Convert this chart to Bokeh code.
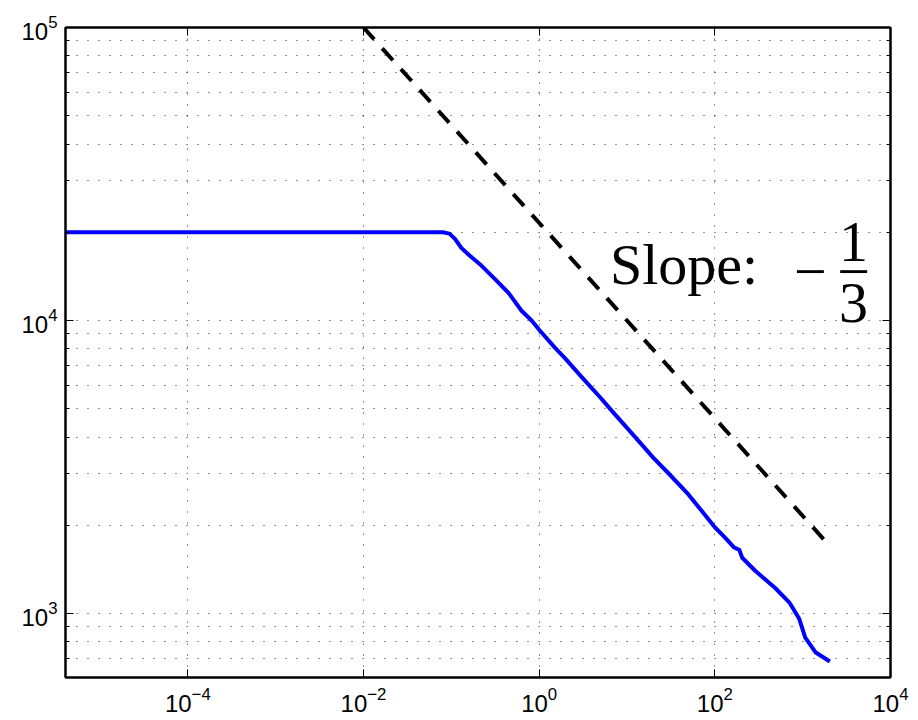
from bokeh.plotting import figure
from bokeh.models import FixedTicker, LogAxis, Label, CustomJSTickFormatter, LogTickFormatter
from bokeh.embed import file_html
from bokeh.resources import INLINE

# ---- data ----
curve_x = [4.05e-6, 1e-4, 1e-2, 0.06, 0.08, 0.095, 0.11, 0.13, 0.16, 0.22, 0.31,
           0.45, 0.63, 0.82, 1.0, 1.5, 2, 3, 5, 7, 10, 15, 20, 30, 50, 70, 100,
           130, 166, 190, 205, 288, 490, 707, 910, 1070, 1410, 2040]
curve_y = [2.0e4, 2.0e4, 2.0e4, 2.0e4, 2.0e4, 1.98e4, 1.9e4, 1.77e4, 1.67e4, 1.54e4, 1.39e4,
           1.24e4, 1.08e4, 1.0e4, 9.3e3, 8.1e3, 7.4e3, 6.45e3, 5.45e3, 4.85e3, 4.3e3, 3.75e3, 3.4e3, 3.0e3, 2.55e3, 2.25e3, 1.97e3,
           1.82e3, 1.68e3, 1.65e3, 1.55e3, 1.40e3, 1.22e3, 1.09e3, 962, 828, 736, 686]

slope_x = [0.01, 2000]
slope_y = [1.0e5, 1710]

x_major = [1e-4, 1e-2, 1e0, 1e2, 1e4]
y_major = [1e3, 1e4, 1e5]

x_lo, x_hi = 4.05e-6, 1e4
y_lo, y_hi = 605, 1e5

y_minor = [k * 10.0 ** d for d in range(2, 5) for k in range(2, 10)
           if y_lo <= k * 10.0 ** d <= y_hi]

p = figure(width=910, height=720, x_axis_type="log", y_axis_type="log",
           x_range=(x_lo, x_hi), y_range=(y_lo, y_hi),
           output_backend="svg", toolbar_location=None,
           min_border_left=65, min_border_right=20, min_border_top=27, min_border_bottom=43)
p.background_fill_color = "white"
p.border_fill_color = "white"
p.outline_line_color = "black"
p.outline_line_width = 2

xt = FixedTicker(ticks=x_major, minor_ticks=[])
yt = FixedTicker(ticks=y_major, minor_ticks=y_minor)

def style_axis(ax, labels):
    ax.axis_line_color = "black"
    ax.axis_line_width = 2
    ax.major_tick_in = 8
    ax.major_tick_out = 0
    ax.minor_tick_in = 4
    ax.minor_tick_out = 0
    ax.major_tick_line_color = "black"
    ax.minor_tick_line_color = "black"
    ax.major_tick_line_width = 1
    ax.minor_tick_line_width = 1
    if labels:
        ax.formatter = LogTickFormatter()
        ax.major_label_text_font = "Liberation Sans"
        ax.major_label_text_font_size = "24px"
        ax.major_label_text_color = "black"
    else:
        ax.formatter = CustomJSTickFormatter(code="return ''")
        ax.major_label_text_font_size = "1px"
        ax.major_label_standoff = 0

p.xaxis.ticker = xt
p.yaxis.ticker = yt
style_axis(p.xaxis[0], True)
style_axis(p.yaxis[0], True)
p.xaxis.major_label_standoff = 9
p.yaxis.major_label_standoff = 8

top_ax = LogAxis(ticker=FixedTicker(ticks=x_major, minor_ticks=[]))
right_ax = LogAxis(ticker=FixedTicker(ticks=y_major, minor_ticks=y_minor))
style_axis(top_ax, False)
style_axis(right_ax, False)
p.add_layout(top_ax, "above")
p.add_layout(right_ax, "right")

# grid
p.xgrid.ticker = xt
p.ygrid.ticker = yt
for g in (p.xgrid[0], p.ygrid[0]):
    g.grid_line_color = "black"
    g.grid_line_alpha = 0.85
    g.grid_line_width = 1
    g.grid_line_dash = "1 10"
p.ygrid.minor_grid_line_color = "black"
p.ygrid.minor_grid_line_alpha = 0.85
p.ygrid.minor_grid_line_width = 1
p.ygrid.minor_grid_line_dash = "1 10"

p.line(curve_x, curve_y, line_color="#0000FF", line_width=4, line_join="round")
p.line(slope_x, slope_y, line_color="black", line_width=4, line_dash="16 12")

serif = "Liberation Serif"
fs = "58px"
p.add_layout(Label(x=6.4, y=1.55e4, text="Slope:", text_font=serif, text_font_size=fs,
                   text_align="left", text_baseline="alphabetic", text_color="black"))
p.add_layout(Label(x=1227, y=1.46e4, text="\u2212", text_font=serif, text_font_size=fs,
                   text_align="center", text_baseline="middle", text_color="black"))
p.add_layout(Label(x=3.8e3, y=1.85e4, text="1", text_font=serif, text_font_size=fs,
                   text_align="center", text_baseline="alphabetic", text_color="black"))
p.add_layout(Label(x=3.8e3, y=1.46e4, text="\u2212", text_font=serif, text_font_size=fs,
                   text_align="center", text_baseline="middle", text_color="black"))
p.add_layout(Label(x=3.8e3, y=1.15e4, text="3", text_font=serif, text_font_size=fs,
                   text_align="center", text_baseline="alphabetic", text_color="black"))

open("out.html", "w").write(file_html(p, INLINE))
